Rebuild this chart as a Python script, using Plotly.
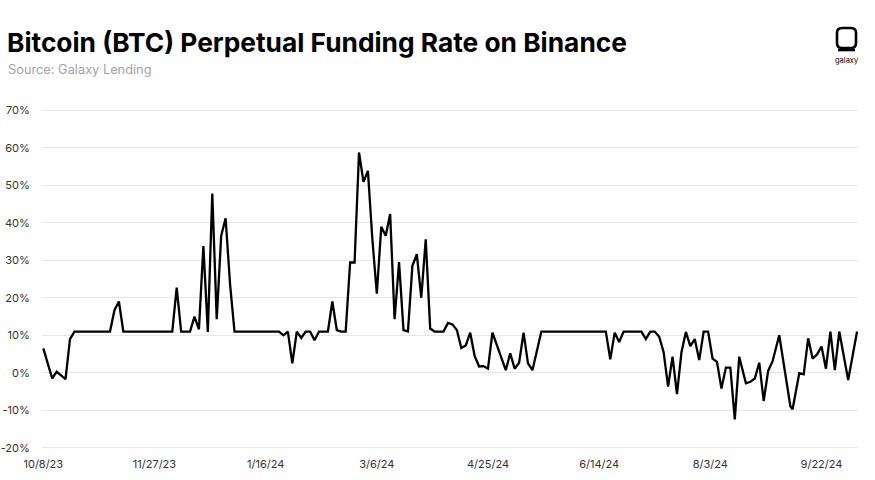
import plotly.graph_objects as go

# ---- data ----
dates = [
    "2023-10-08", "2023-10-12", "2023-10-14", "2023-10-16", "2023-10-18", "2023-10-20", "2023-10-22",
    "2023-11-07", "2023-11-09", "2023-11-11", "2023-11-13",
    "2023-12-05", "2023-12-07", "2023-12-09", "2023-12-13", "2023-12-15", "2023-12-17", "2023-12-19",
    "2023-12-21", "2023-12-23", "2023-12-25", "2023-12-27", "2023-12-29", "2023-12-31",
    "2024-01-02", "2024-01-22", "2024-01-24", "2024-01-26", "2024-01-28", "2024-01-30",
    "2024-02-01", "2024-02-03", "2024-02-05", "2024-02-07", "2024-02-09", "2024-02-13", "2024-02-15",
    "2024-02-17", "2024-02-19", "2024-02-21", "2024-02-23", "2024-02-25", "2024-02-27", "2024-02-29",
    "2024-03-02", "2024-03-04", "2024-03-06", "2024-03-08", "2024-03-10", "2024-03-12", "2024-03-14",
    "2024-03-16", "2024-03-18", "2024-03-20", "2024-03-22", "2024-03-24", "2024-03-26", "2024-03-28",
    "2024-03-30", "2024-04-01", "2024-04-05", "2024-04-07", "2024-04-09", "2024-04-11", "2024-04-13",
    "2024-04-15", "2024-04-17", "2024-04-19", "2024-04-21", "2024-04-23", "2024-04-25", "2024-04-27",
    "2024-04-29", "2024-05-01", "2024-05-03", "2024-05-05", "2024-05-07", "2024-05-09", "2024-05-11",
    "2024-05-13", "2024-05-15", "2024-05-19",
    "2024-06-17", "2024-06-19", "2024-06-21", "2024-06-23", "2024-06-25",
    "2024-07-03", "2024-07-05", "2024-07-07", "2024-07-09", "2024-07-11", "2024-07-13", "2024-07-15",
    "2024-07-17", "2024-07-19", "2024-07-21", "2024-07-23", "2024-07-25", "2024-07-27", "2024-07-29",
    "2024-07-31", "2024-08-02", "2024-08-04", "2024-08-06", "2024-08-08", "2024-08-10", "2024-08-12",
    "2024-08-14", "2024-08-16", "2024-08-19", "2024-08-21", "2024-08-23", "2024-08-25", "2024-08-27",
    "2024-08-29", "2024-08-31", "2024-09-01", "2024-09-03", "2024-09-08", "2024-09-09", "2024-09-12",
    "2024-09-14", "2024-09-16", "2024-09-18", "2024-09-20", "2024-09-22", "2024-09-24", "2024-09-26",
    "2024-09-28", "2024-09-30", "2024-10-04", "2024-10-08",
]
funding_rate = [
    6.5, -1.5, 0.3, -0.8, -1.7, 9.0, 11.0,
    11.0, 16.7, 19.0, 11.0,
    11.0, 22.7, 11.0, 11.0, 15.0, 11.6, 33.8,
    10.9, 47.8, 14.3, 36.5, 41.2, 23.6,
    11.0, 11.0, 10.0, 11.0, 2.5, 11.0,
    9.3, 11.0, 11.0, 8.7, 11.0, 11.0, 19.0,
    11.4, 11.0, 11.0, 29.4, 29.4, 58.7, 50.9,
    53.8, 35.6, 21.1, 38.9, 36.5, 42.3, 14.3,
    29.5, 11.4, 11.0, 28.5, 31.6, 20.0, 35.6,
    11.8, 11.0, 11.0, 13.3, 12.9, 11.4, 6.6,
    7.3, 10.7, 4.5, 1.7, 1.8, 1.1, 10.7,
    7.3, 3.6, 0.7, 5.2, 1.1, 2.7, 10.7,
    2.5, 0.7, 11.0,
    11.0, 3.6, 10.7, 8.2, 11.0,
    11.0, 9.0, 11.0, 11.0, 9.6, 5.5, -3.7,
    4.3, -5.7, 5.4, 10.9, 7.1, 9.0, 3.4,
    11.0, 11.0, 3.8, 2.9, -4.2, 1.4, 1.4,
    -12.4, 4.3, -2.8, -2.4, -1.5, 2.7, -7.5,
    0.5, 3.1, 5.4, 10.0, -8.9, -9.7, -0.1,
    -0.4, 9.2, 3.8, 4.9, 7.0, 1.1, 11.0,
    0.7, 11.0, -1.9, 11.0,
]

x_tick_dates = ["2023-10-08", "2023-11-27", "2024-01-16", "2024-03-06",
                "2024-04-25", "2024-06-14", "2024-08-03", "2024-09-22"]
x_tick_labels = ["10/8/23", "11/27/23", "1/16/24", "3/6/24",
                 "4/25/24", "6/14/24", "8/3/24", "9/22/24"]
y_tick_values = [-20, -10, 0, 10, 20, 30, 40, 50, 60, 70]
y_tick_labels = ["-20%", "-10%", "0%", "10%", "20%", "30%", "40%", "50%", "60%", "70%"]

title_text = "Bitcoin (BTC) Perpetual Funding Rate on Binance"
source_text = "Source: Galaxy Lending"

# ---- layout geometry ----
W, H = 875, 480
ML, MR, MT, MB = 42, 17, 109, 31
PW, PH = W - ML - MR, H - MT - MB


def px_x(px):
    return (px - ML) / PW


def px_y(py):
    return (H - MB - py) / PH


FONT = "Inter"

fig = go.Figure()
fig.add_trace(go.Scatter(
    x=dates, y=funding_rate, mode="lines",
    line=dict(color="#000000", width=2.3),
    hoverinfo="skip", showlegend=False,
))

fig.update_layout(
    width=W, height=H,
    margin=dict(l=ML, r=MR, t=MT, b=MB, autoexpand=False),
    paper_bgcolor="white", plot_bgcolor="white",
    showlegend=False,
    annotations=[
        dict(text="<b>" + title_text + "</b>", xref="paper", yref="paper",
             x=px_x(5), y=px_y(42), xanchor="left", yanchor="middle",
             showarrow=False,
             font=dict(family=FONT, size=26.3, color="#000000")),
        dict(text=source_text, xref="paper", yref="paper",
             x=px_x(6), y=px_y(70), xanchor="left", yanchor="middle",
             showarrow=False,
             font=dict(family=FONT, size=12.8, color="#a3a3a3")),
        dict(text="galaxy", xref="paper", yref="paper",
             x=px_x(846.5), y=px_y(60), xanchor="center", yanchor="middle",
             showarrow=False,
             font=dict(family=FONT, size=7.5, color="#000000")),
    ],
    xaxis=dict(
        type="date", automargin=False, fixedrange=True,
        range=["2023-10-07 10:00", "2024-10-08 10:00"],
        tickmode="array", tickvals=x_tick_dates, ticktext=x_tick_labels,
        showgrid=False, zeroline=False, showline=False,
        ticks="outside", ticklen=5, tickcolor="rgba(0,0,0,0)",
        tickfont=dict(family=FONT, size=11, color="#333333"),
    ),
    yaxis=dict(
        automargin=False, fixedrange=True,
        range=[-20.3, 70.3],
        tickmode="array", tickvals=y_tick_values, ticktext=y_tick_labels,
        showgrid=True, gridcolor="#e6e6e6", gridwidth=1,
        zeroline=False, showline=False,
        ticks="outside", ticklen=9, tickcolor="rgba(0,0,0,0)",
        tickfont=dict(family=FONT, size=11, color="#333333"),
    ),
)

# galaxy logo (rounded outline with bottom bar)
lx0, lx1, ly0, ly1, r = 837, 856, 28, 48, 5
path = (
    f"M {px_x(lx0 + r)},{px_y(ly0)} L {px_x(lx1 - r)},{px_y(ly0)} "
    f"Q {px_x(lx1)},{px_y(ly0)} {px_x(lx1)},{px_y(ly0 + r)} "
    f"L {px_x(lx1)},{px_y(ly1 - r)} "
    f"Q {px_x(lx1)},{px_y(ly1)} {px_x(lx1 - r)},{px_y(ly1)} "
    f"L {px_x(lx0 + r)},{px_y(ly1)} "
    f"Q {px_x(lx0)},{px_y(ly1)} {px_x(lx0)},{px_y(ly1 - r)} "
    f"L {px_x(lx0)},{px_y(ly0 + r)} "
    f"Q {px_x(lx0)},{px_y(ly0)} {px_x(lx0 + r)},{px_y(ly0)} Z"
)
fig.add_shape(type="path", path=path, xref="paper", yref="paper",
              line=dict(color="#000000", width=2.6))
fig.add_shape(type="line", xref="paper", yref="paper",
              x0=px_x(lx0 + 1), x1=px_x(lx1 - 1), y0=px_y(ly1 + 2), y1=px_y(ly1 + 2),
              line=dict(color="#000000", width=2.6))

fig.write_html("out.html", config={"displayModeBar": False},
               post_script="document.body.style.margin='0px';")
